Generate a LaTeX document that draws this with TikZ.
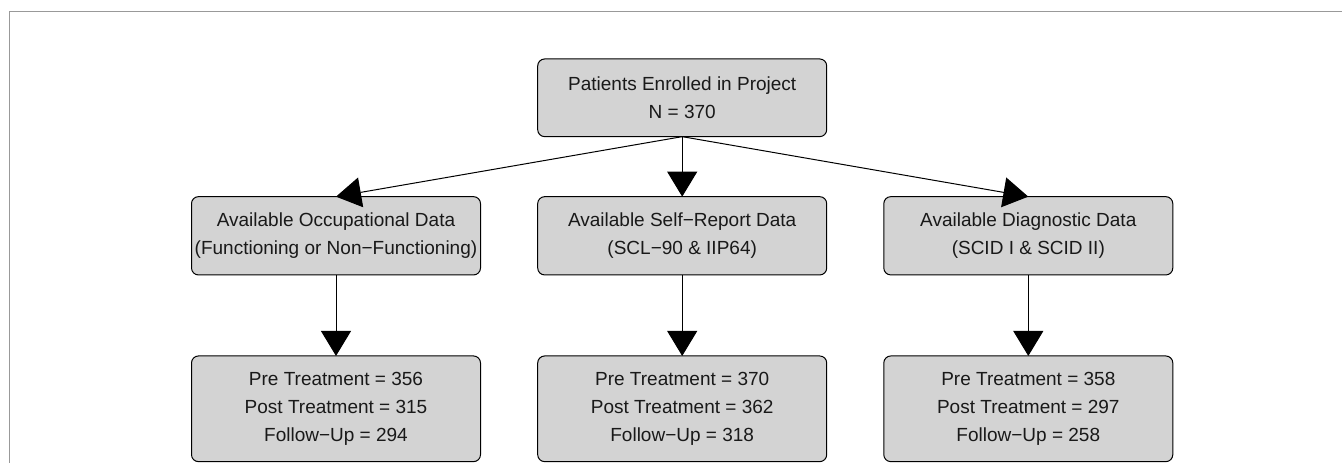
\documentclass[tikz,border=0pt]{standalone}
\usepackage{fontspec}
\setmainfont{Liberation Sans}
\usetikzlibrary{arrows.meta}
\begin{document}
\begin{tikzpicture}[x=1pt,y=-1pt,
  box/.style={draw=black, fill=boxgray, rounded corners=7pt, line width=1pt,
    minimum width=289pt, inner sep=0pt, outer sep=0pt, align=center,
    font=\fontsize{19}{28}\selectfont, text=black!90},
  conn/.style={line width=1pt, -{Triangle[length=25pt,width=30pt]}},
  frame/.style={draw=framegray, line width=1.2pt}]
\definecolor{boxgray}{HTML}{D3D3D3}
\definecolor{framegray}{HTML}{999999}
\useasboundingbox (0,0) rectangle (1342,463);
\coordinate (fa) at (9.7,463);
\coordinate (fb) at (9.7,11.3);
\coordinate (fc) at (1342,11.3);
\draw[frame] (fa) -- (fb) -- (fc);
\node[box, minimum height=77.7pt] (top) at (682.2,97.8) {Patients Enrolled in Project\\N = 370};
\node[box, minimum height=78.3pt] (occ) at (336,235.8) {Available Occupational Data\\(Functioning or Non−Functioning)};
\node[box, minimum height=78.3pt] (self) at (682.2,235.8) {Available Self−Report Data\\(SCL−90 \& IIP64)};
\node[box, minimum height=78.3pt] (diag) at (1028.3,235.8) {Available Diagnostic Data\\(SCID I \& SCID II)};
\node[box, minimum height=105.7pt] (occb) at (336,408.8) {Pre Treatment = 356\\Post Treatment = 315\\Follow−Up = 294};
\node[box, minimum height=105.7pt] (selfb) at (682.2,408.8) {Pre Treatment = 370\\Post Treatment = 362\\Follow−Up = 318};
\node[box, minimum height=105.7pt] (diagb) at (1028.3,408.8) {Pre Treatment = 358\\Post Treatment = 297\\Follow−Up = 258};
\draw[conn] (top.south) -- (occ.north);
\draw[conn] (top.south) -- (self.north);
\draw[conn] (top.south) -- (diag.north);
\draw[conn] (occ.south) -- (occb.north);
\draw[conn] (self.south) -- (selfb.north);
\draw[conn] (diag.south) -- (diagb.north);
\end{tikzpicture}
\end{document}
